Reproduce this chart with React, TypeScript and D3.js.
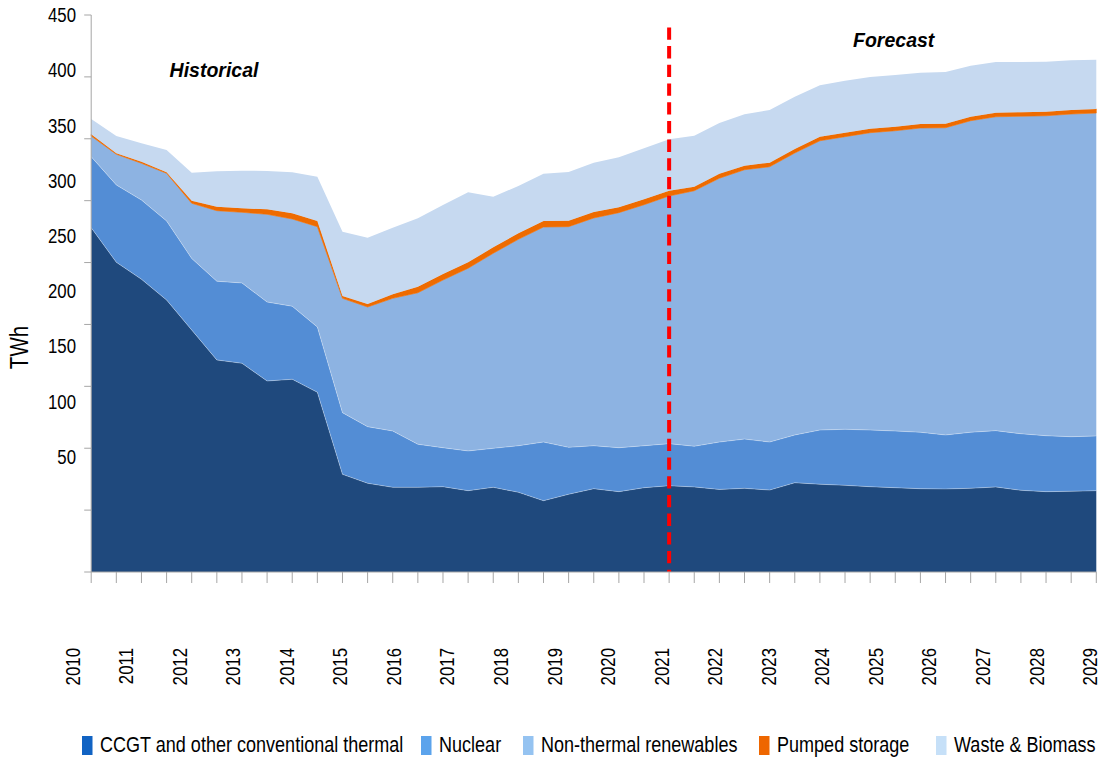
import * as React from 'react'
import * as d3 from 'd3'

// half-year steps, 2010 .. 2030
const PERIODS = d3.range(41).map(i => 2010 + i / 2)
const YEAR_LABELS = ['2010', '2011', '2012', '2013', '2014', '2015', '2016', '2017', '2018', '2019',
    '2020', '2021', '2022', '2023', '2024', '2025', '2026', '2027', '2028', '2029']
const Y_TICKS = [0, 50, 100, 150, 200, 250, 300, 350, 400, 450]
const Y_LABELS = [50, 100, 150, 200, 250, 300, 350, 400, 450]
const FORECAST_START = 2021.5

const CCGT = [278.2, 250.2, 236.5, 219.7, 195.5, 171.3, 168.6, 154.3, 155.7, 145.2, 78.9, 71.7, 68.4, 68.4,
    68.9, 65.7, 68.4, 64.4, 57.6, 62.8, 67.3, 64.9, 68.1, 69.7, 68.7, 66.7, 67.6, 66.2, 72.1, 70.9, 70.0, 68.9,
    68.1, 67.3, 67.1, 67.6, 68.7, 66.0, 64.9, 65.2, 65.7]
const NUCLEAR = [57.3, 62.5, 64.0, 63.9, 57.8, 63.6, 64.9, 63.8, 59.0, 52.7, 49.8, 45.7, 45.5, 34.8, 31.5,
    32.1, 31.5, 37.6, 47.4, 37.9, 34.7, 35.5, 33.9, 34.0, 32.9, 38.3, 39.8, 38.8, 38.6, 43.8, 45.3, 45.8, 45.8,
    45.6, 43.6, 45.3, 45.5, 45.7, 45.2, 44.1, 44.2]
const RENEWABLES = [16.7, 24.8, 29.7, 38.5, 44.6, 57.0, 57.1, 70.9, 70.5, 81.1, 92.4, 96.7, 107.2, 122.4,
    135.5, 147.6, 157.6, 166.8, 173.7, 178.3, 184.0, 189.9, 194.7, 200.1, 206.4, 213.1, 217.6, 222.4, 227.8,
    233.7, 236.4, 240.2, 242.6, 245.8, 248.2, 251.7, 253.6, 256.5, 258.5, 260.7, 260.9]
const PUMPED = [1.4, 0.8, 1.3, 0.8, 2.1, 3.2, 3.2, 4.0, 4.6, 4.6, 1.9, 2.4, 3.3, 4.9, 4.8, 4.8, 4.8, 4.8, 4.9,
    4.8, 4.8, 4.3, 4.4, 4.3, 3.3, 3.7, 3.2, 3.3, 3.2, 3.3, 3.2, 3.2, 3.3, 3.2, 3.3, 3.2, 3.3, 3.2, 3.3, 3.2, 3.3]
const WASTE = [12.4, 13.9, 14.8, 18.0, 22.6, 28.6, 30.4, 31.0, 33.1, 35.8, 51.9, 53.6, 53.8, 55.2, 55.8, 56.6,
    40.9, 38.2, 38.2, 39.4, 39.9, 40.4, 41.2, 41.5, 41.2, 40.9, 41.6, 42.5, 42.3, 41.5, 42.0, 41.8, 41.7, 41.5,
    41.7, 41.2, 40.9, 40.6, 40.4, 40.2, 39.8]

const SERIES = [
    { key: 'ccgt', name: 'CCGT and other conventional thermal', values: CCGT, fill: '#1F497D', swatch: '#1163C3' },
    { key: 'nuclear', name: 'Nuclear', values: NUCLEAR, fill: '#538DD5', swatch: '#5BA3EC' },
    { key: 'renew', name: 'Non-thermal renewables', values: RENEWABLES, fill: '#8DB3E2', swatch: '#95C3F1' },
    { key: 'pumped', name: 'Pumped storage', values: PUMPED, fill: '#EE6B00', swatch: '#EE6600' },
    { key: 'waste', name: 'Waste & Biomass', values: WASTE, fill: '#C6D9F0', swatch: '#C6E0F8' },
]

const FONT = "'Liberation Sans', Arial, sans-serif"
const NARROW = 0.82 // no Arial Narrow available, squeeze Liberation Sans instead

// text squeezed along its reading direction to look like a narrow face
function NText(props: { x: number, y: number, rotate?: number, anchor?: string, size: number, baseline?: string, children: any }) {
    let rot = props.rotate ? ` rotate(${props.rotate})` : ''
    return <g transform={`translate(${props.x} ${props.y})${rot} scale(${NARROW} 1)`}>
        <text fontFamily={FONT} fontSize={props.size} textAnchor={props.anchor || 'start'}
            dominantBaseline={props.baseline || 'auto'}>{props.children}</text>
    </g>
}

export default function App() {
    const WIDTH = 1099
    const HEIGHT = 762
    const LEFT = 91.2
    const RIGHT = 1096.3
    const TOP = 15
    const BOTTOM = 572
    const AXIS = '#A6A6A6'
    const LEGEND_X = [82, 421, 523, 759, 936]

    let x = d3.scalePoint<number>().domain(PERIODS).range([LEFT, RIGHT])
    let y = d3.scaleLinear().domain([0, 450]).range([BOTTOM, TOP])
    // the tick labels sit on their own (compressed) spacing in the original
    let yLabel = d3.scaleLinear().domain([50, 450]).range([456.7, TOP])
    let yearX = d3.scalePoint<string>().domain(YEAR_LABELS).range([72.5, 1090])

    let table = PERIODS.map((p, i) => {
        let row: any = { period: p }
        SERIES.forEach(s => { row[s.key] = s.values[i] })
        return row
    })
    let stacked = d3.stack().keys(SERIES.map(s => s.key))(table)

    let area = d3.area<any>()
        .x(d => x(d.data.period) as number)
        .y0(d => y(d[0]))
        .y1(d => y(d[1]))
    let topLine = d3.line<any>()
        .x(d => x(d.data.period) as number)
        .y(d => y(d[1]))

    return <svg width={WIDTH} height={HEIGHT} style={{ position: 'absolute', left: 0, top: 0 }}>
        <rect width={WIDTH} height={HEIGHT} fill="#fff" />
        {
            stacked.map((layer, i) =>
                <path key={layer.key} d={area(layer) as string} fill={SERIES[i].fill}
                    stroke={SERIES[i].key == 'pumped' ? SERIES[i].fill : 'none'} strokeWidth={0.6} />
            )
        }
        {
            stacked.slice(0, 2).map(layer =>
                <path key={'seam' + layer.key} d={topLine(layer) as string} fill="none" stroke="#fff" strokeOpacity={0.3} strokeWidth={1} />
            )
        }

        <line x1={x(FORECAST_START)} x2={x(FORECAST_START)} y1={y(440)} y2={y(0)}
            stroke="#FF0000" strokeWidth={4} strokeDasharray="12.3 6.4" />

        <g stroke={AXIS} strokeWidth={1}>
            <line x1={LEFT} x2={LEFT} y1={TOP} y2={BOTTOM} />
            <line x1={LEFT} x2={RIGHT} y1={BOTTOM} y2={BOTTOM} />
            {Y_TICKS.map(t => <line key={t} x1={LEFT - 7} x2={LEFT} y1={y(t)} y2={y(t)} />)}
            {PERIODS.map(p => <line key={p} x1={x(p)} x2={x(p)} y1={BOTTOM} y2={BOTTOM + 11} />)}
        </g>

        {Y_LABELS.map(t =>
            <NText key={t} x={76} y={yLabel(t)} anchor="end" baseline="central" size={20.5}>{t}</NText>
        )}
        {YEAR_LABELS.map(l =>
            <NText key={l} x={yearX(l) as number} y={648} rotate={-90} anchor="end" baseline="central" size={20.5}>{l}</NText>
        )}
        <NText x={19.5} y={347.5} rotate={-90} anchor="middle" baseline="central" size={25}>TWh</NText>

        <g fontFamily={FONT} fontSize={19.5} fontWeight="bold" fontStyle="italic">
            <text x={214} y={76.7} textAnchor="middle">Historical</text>
            <text x={893.7} y={46.7} textAnchor="middle">Forecast</text>
        </g>

        {SERIES.map((s, i) =>
            <g key={s.key}>
                <rect x={LEGEND_X[i]} y={736} width={10.5} height={19} fill={s.swatch} />
                <NText x={LEGEND_X[i] + 18} y={752} size={22}>{s.name}</NText>
            </g>
        )}
    </svg>
}
